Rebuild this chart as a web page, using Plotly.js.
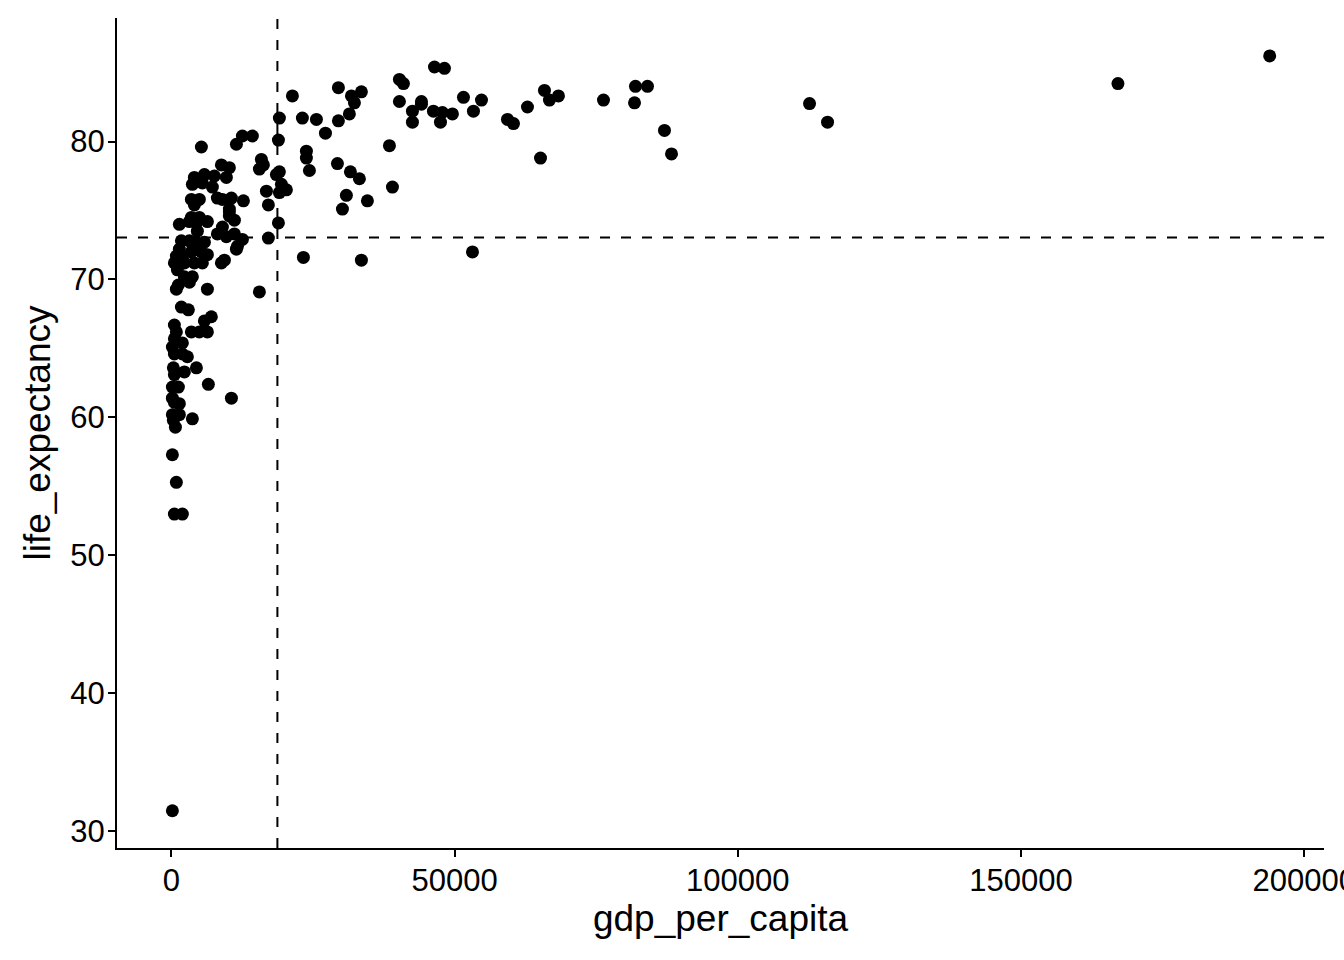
<!DOCTYPE html>
<html>
<head>
<meta charset="utf-8">
<script src="https://cdn.plot.ly/plotly-3.0.1.min.js"></script>
<style>
  html, body { margin: 0; padding: 0; background: #fff; }
  #chart { width: 1344px; height: 960px; }
</style>
</head>
<body>
<div id="chart"></div>
<script>
const gdp_per_capita = [
  180, 530, 1940, 880, 180, 710, 350, 1410, 180, 3710,
  530, 1410, 10600, 180, 6530, 180, 1240, 4420, 350, 530,
  2300, 530, 1940, 2830, 180, 1940, 530, 3530, 4940, 6360,
  880, 530, 7060, 5830, 1770, 3000, 880, 6360, 15540, 1240,
  2300, 3710, 3180, 1060, 530, 2300, 4060, 5470, 8830, 9360,
  880, 1940, 1410, 3530, 5300, 6360, 11480, 1770, 3180, 4420,
  5830, 11660, 8120, 9710, 11130, 12540, 9010, 4590, 1410, 3180,
  4420, 6360, 10240, 11130, 10240, 3530, 4940, 10240, 3530, 4060,
  4940, 8120, 9010, 10600, 12720, 3710, 5470, 7240, 4060, 5830,
  7590, 9710, 8830, 10240, 5300, 11480, 12540, 14300,
  15890, 16250, 15540, 16780, 17130, 17130, 18540, 19070, 19430, 20310,
  19070, 18900, 18900, 19070, 21370, 23130, 23310, 23840, 23840, 24370,
  25610, 27200, 29320, 29490, 29490, 30200, 30900, 31610, 31430, 31790,
  32320, 33550, 33200, 33550, 34610, 38500, 39030, 40260, 40970, 40260,
  42560, 42560, 44150, 44150, 46270, 46450, 48210, 47510, 47860, 49620,
  51570, 53330, 54750, 53160, 59340, 60400, 62870, 65870, 66750, 68340,
  65170, 76290, 81940, 84060, 81770, 87060, 88300, 112670, 115850, 167120,
  193910
];
const life_expectancy = [
  31.5, 53.0, 53.0, 55.3, 57.3, 59.3, 59.8, 60.2, 60.2, 59.9,
  61.1, 61.0, 61.4, 61.4, 62.4, 62.2, 62.2, 63.6, 63.6, 63.1,
  63.3, 64.6, 64.6, 64.4, 65.1, 65.4, 65.7, 66.2, 66.2, 66.2,
  66.2, 66.7, 67.3, 67.0, 68.0, 67.8, 69.3, 69.3, 69.1, 69.6,
  70.2, 70.2, 69.8, 70.7, 71.2, 71.2, 71.2, 71.2, 71.2, 71.4,
  71.7, 71.7, 72.2, 72.0, 72.0, 71.8, 72.2, 72.8, 72.8, 72.7,
  72.7, 72.4, 73.3, 73.1, 73.3, 72.9, 73.8, 73.5, 74.0, 74.2,
  74.1, 74.2, 74.9, 74.3, 74.6, 74.5, 74.5, 75.1, 75.8, 75.4,
  75.8, 75.9, 75.8, 75.9, 75.7, 76.9, 77.0, 76.7, 77.4, 77.6,
  77.5, 77.4, 78.3, 78.1, 79.6, 79.8, 80.4, 80.4,
  78.7, 78.3, 78.0, 76.4, 75.4, 73.0, 77.6, 77.8, 76.9, 76.5,
  76.3, 74.1, 80.1, 81.7, 83.3, 81.7, 71.6, 79.3, 78.8, 77.9,
  81.6, 80.6, 78.4, 83.9, 81.5, 75.1, 76.1, 77.8, 82.0, 83.3,
  82.8, 83.6, 77.3, 71.4, 75.7, 79.7, 76.7, 84.5, 84.2, 82.9,
  82.2, 81.4, 82.9, 82.7, 82.2, 85.4, 85.3, 81.4, 82.1, 82.0,
  83.2, 82.2, 83.0, 72.0, 81.6, 81.3, 82.5, 83.7, 83.0, 83.3,
  78.8, 83.0, 84.0, 84.0, 82.8, 80.8, 79.1, 82.75, 81.4, 84.2,
  86.2
];
const mean_gdp_per_capita = 18720;
const mean_life_expectancy = 73.04;
const x_tick_values = [0, 50000, 100000, 150000, 200000];
const x_tick_labels = ["0", "50000", "100000", "150000", "200000"];
const y_tick_values = [30, 40, 50, 60, 70, 80];
const y_tick_labels = ["30", "40", "50", "60", "70", "80"];

const trace = {
  type: 'scatter',
  mode: 'markers',
  x: gdp_per_capita,
  y: life_expectancy,
  marker: { color: '#000000', size: 13, line: { width: 0 } },
  hoverinfo: 'x+y'
};

const font = 'Liberation Sans, Arial, Helvetica, sans-serif';
const layout = {
  width: 1344,
  height: 960,
  paper_bgcolor: '#ffffff',
  plot_bgcolor: '#ffffff',
  showlegend: false,
  margin: { l: 117, r: 20, t: 18, b: 112, pad: 0 },
  font: { family: font, color: '#000000' },
  xaxis: {
    range: [-9600, 203500],
    tickvals: x_tick_values,
    ticktext: x_tick_labels,
    showgrid: false,
    zeroline: false,
    showline: true,
    linecolor: '#000000',
    linewidth: 2,
    ticks: 'outside',
    ticklen: 7,
    tickwidth: 2,
    tickcolor: '#000000',
    ticklabeloverflow: 'allow',
    ticklabelstandoff: -3,
    tickfont: { family: font, size: 31, color: '#000000' },
    title: { text: 'gdp_per_capita', font: { family: font, size: 37, color: '#000000' }, standoff: 6 },
    automargin: false
  },
  yaxis: {
    range: [28.8, 88.95],
    tickvals: y_tick_values,
    ticktext: y_tick_labels,
    showgrid: false,
    zeroline: false,
    showline: true,
    linecolor: '#000000',
    linewidth: 2,
    ticks: 'outside',
    ticklen: 7,
    tickwidth: 2,
    tickcolor: '#000000',
    ticklabelstandoff: -3,
    tickfont: { family: font, size: 31, color: '#000000' },
    title: { text: 'life_expectancy', font: { family: font, size: 37, color: '#000000' }, standoff: 8 },
    automargin: false
  },
  shapes: [
    {
      type: 'line', xref: 'x', yref: 'paper',
      x0: mean_gdp_per_capita, x1: mean_gdp_per_capita, y0: 0, y1: 1,
      line: { color: '#000000', width: 2, dash: '10px,11px' },
      layer: 'below'
    },
    {
      type: 'line', xref: 'paper', yref: 'y',
      x0: 0, x1: 1, y0: mean_life_expectancy, y1: mean_life_expectancy,
      line: { color: '#000000', width: 2, dash: '10px,11px' },
      layer: 'below'
    }
  ]
};

Plotly.newPlot('chart', [trace], layout, { displayModeBar: false, staticPlot: true });
</script>
</body>
</html>
